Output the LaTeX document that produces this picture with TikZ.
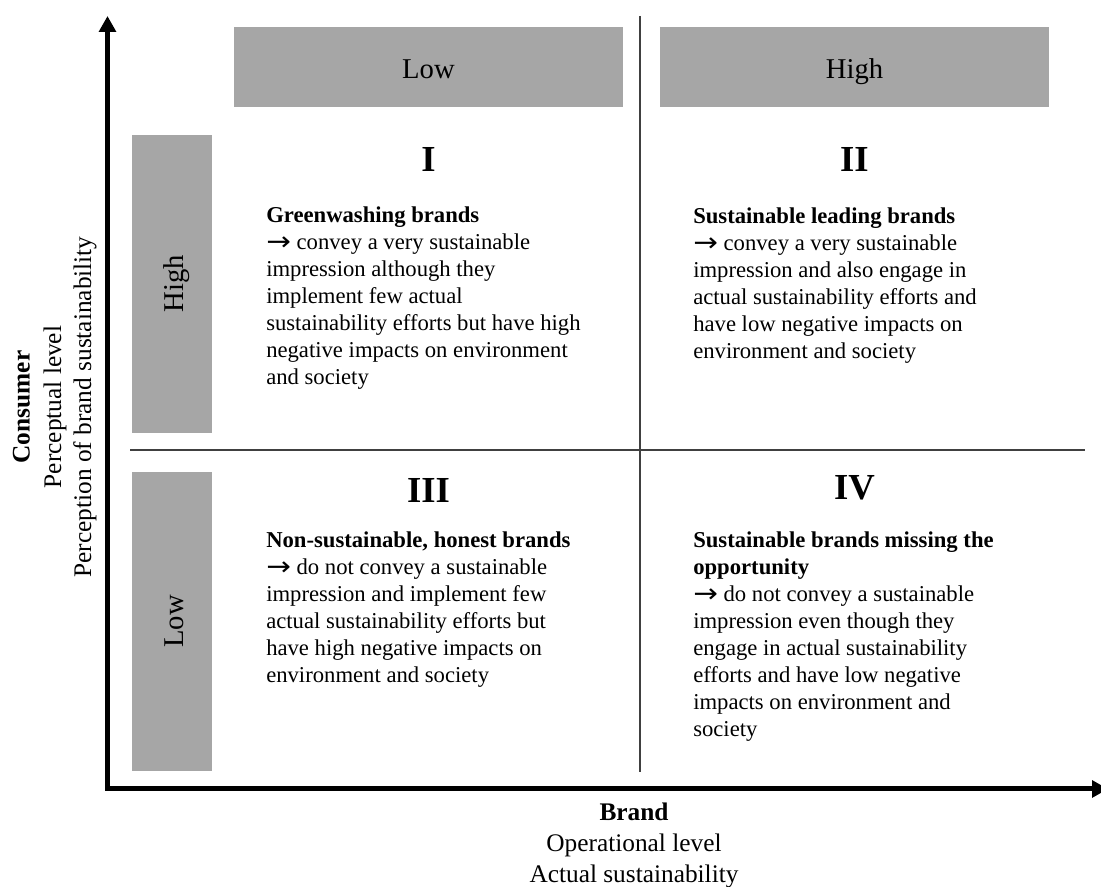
\documentclass[tikz,border=0pt]{standalone}
\usepackage{graphicx}
\usepackage{fontspec}
\setmainfont{Liberation Serif}
\newfontfamily\arrowfont{DejaVu Sans}
\usetikzlibrary{arrows.meta}
\definecolor{boxgray}{HTML}{A6A6A6}
% bullet arrow used in the quadrant descriptions
\newcommand\leadarrow{\raisebox{-0.05em}{\scalebox{1.3}[1.15]{\arrowfont →}}}
\begin{document}
\begin{tikzpicture}[x=0.75pt,y=-0.75pt,
  box/.style={fill=boxgray, draw=none},
  divider/.style={draw=black!75, line width=1pt},
  axisline/.style={line width=3.75pt, line join=miter,
    {Triangle[length=12pt,width=12.5pt]}-{Triangle[length=12pt,width=12.5pt]}},
  hdr/.style={font=\fontsize{21.5}{24}\selectfont, anchor=base, inner sep=0pt},
  numeral/.style={font=\fontsize{27.5}{30}\selectfont\bfseries, anchor=base, inner sep=0pt},
  body/.style={font=\fontsize{17}{20.3}\selectfont, align=left, anchor=north west, inner sep=0pt},
  axislbl/.style={font=\fontsize{19}{23}\selectfont, anchor=base, inner sep=0pt},
]
\useasboundingbox (0,0) rectangle (1101,887);
\clip (0,0) rectangle (1101,887);

% header boxes (columns) and side boxes (rows)
\path[box] (234,27) rectangle (623,107);
\path[box] (660,27) rectangle (1049,107);
\path[box] (132,135) rectangle (212,433);
\path[box] (132,472) rectangle (212,771);

\node[hdr] (colLow) at (428.5,79) {Low};
\node[hdr] (colHigh) at (854.5,79) {High};
\node[hdr, rotate=90] (rowHigh) at (183,284) {High};
\node[hdr, rotate=90] (rowLow) at (183,621.5) {Low};

% quadrant dividers
\coordinate (vTop) at (640,16);
\coordinate (vBot) at (640,772);
\coordinate (hLeft) at (130,450);
\coordinate (hRight) at (1085,450);
\draw[divider] (vTop) -- (vBot);
\draw[divider] (hLeft) -- (hRight);

% axes
\coordinate (yTip) at (107.5,16);
\coordinate (origin) at (107.5,789);
\coordinate (xTip) at (1108,789);
\draw[axisline] (yTip) -- (origin) -- (xTip);

% quadrant numerals
\node[numeral] (qI) at (428.5,172) {I};
\node[numeral] (qII) at (854.5,172) {II};
\node[numeral] (qIII) at (428.5,503) {III};
\node[numeral] (qIV) at (854.5,500) {IV};

% quadrant descriptions
\node[body] (tI) at (266,203) {\strut\textbf{Greenwashing brands}\\
\leadarrow{} convey a very sustainable\\
impression although they\\
implement few actual\\
sustainability efforts but have high\\
negative impacts on environment\\
and society};

\node[body] (tII) at (693,204) {\strut\textbf{Sustainable leading brands}\\
\leadarrow{} convey a very sustainable\\
impression and also engage in\\
actual sustainability efforts and\\
have low negative impacts on\\
environment and society};

\node[body] (tIII) at (266,528) {\strut\textbf{Non-sustainable, honest brands}\\
\leadarrow{} do not convey a sustainable\\
impression and implement few\\
actual sustainability efforts but\\
have high negative impacts on\\
environment and society};

\node[body] (tIV) at (693,528) {\strut\textbf{Sustainable brands missing the}\\
\textbf{opportunity}\\
\leadarrow{} do not convey a sustainable\\
impression even though they\\
engage in actual sustainability\\
efforts and have low negative\\
impacts on environment and\\
society};

% axis titles
\node[axislbl, rotate=90] (yA) at (29.5,407) {\textbf{Consumer}};
\node[axislbl, rotate=90] (yB) at (61,407) {Perceptual level};
\node[axislbl, rotate=90] (yC) at (91,407) {Perception of brand sustainability};

\node[axislbl] (xA) at (634,821) {\textbf{Brand}};
\node[axislbl] (xB) at (634,852) {Operational level};
\node[axislbl] (xC) at (634,883) {Actual sustainability};
\end{tikzpicture}
\end{document}
